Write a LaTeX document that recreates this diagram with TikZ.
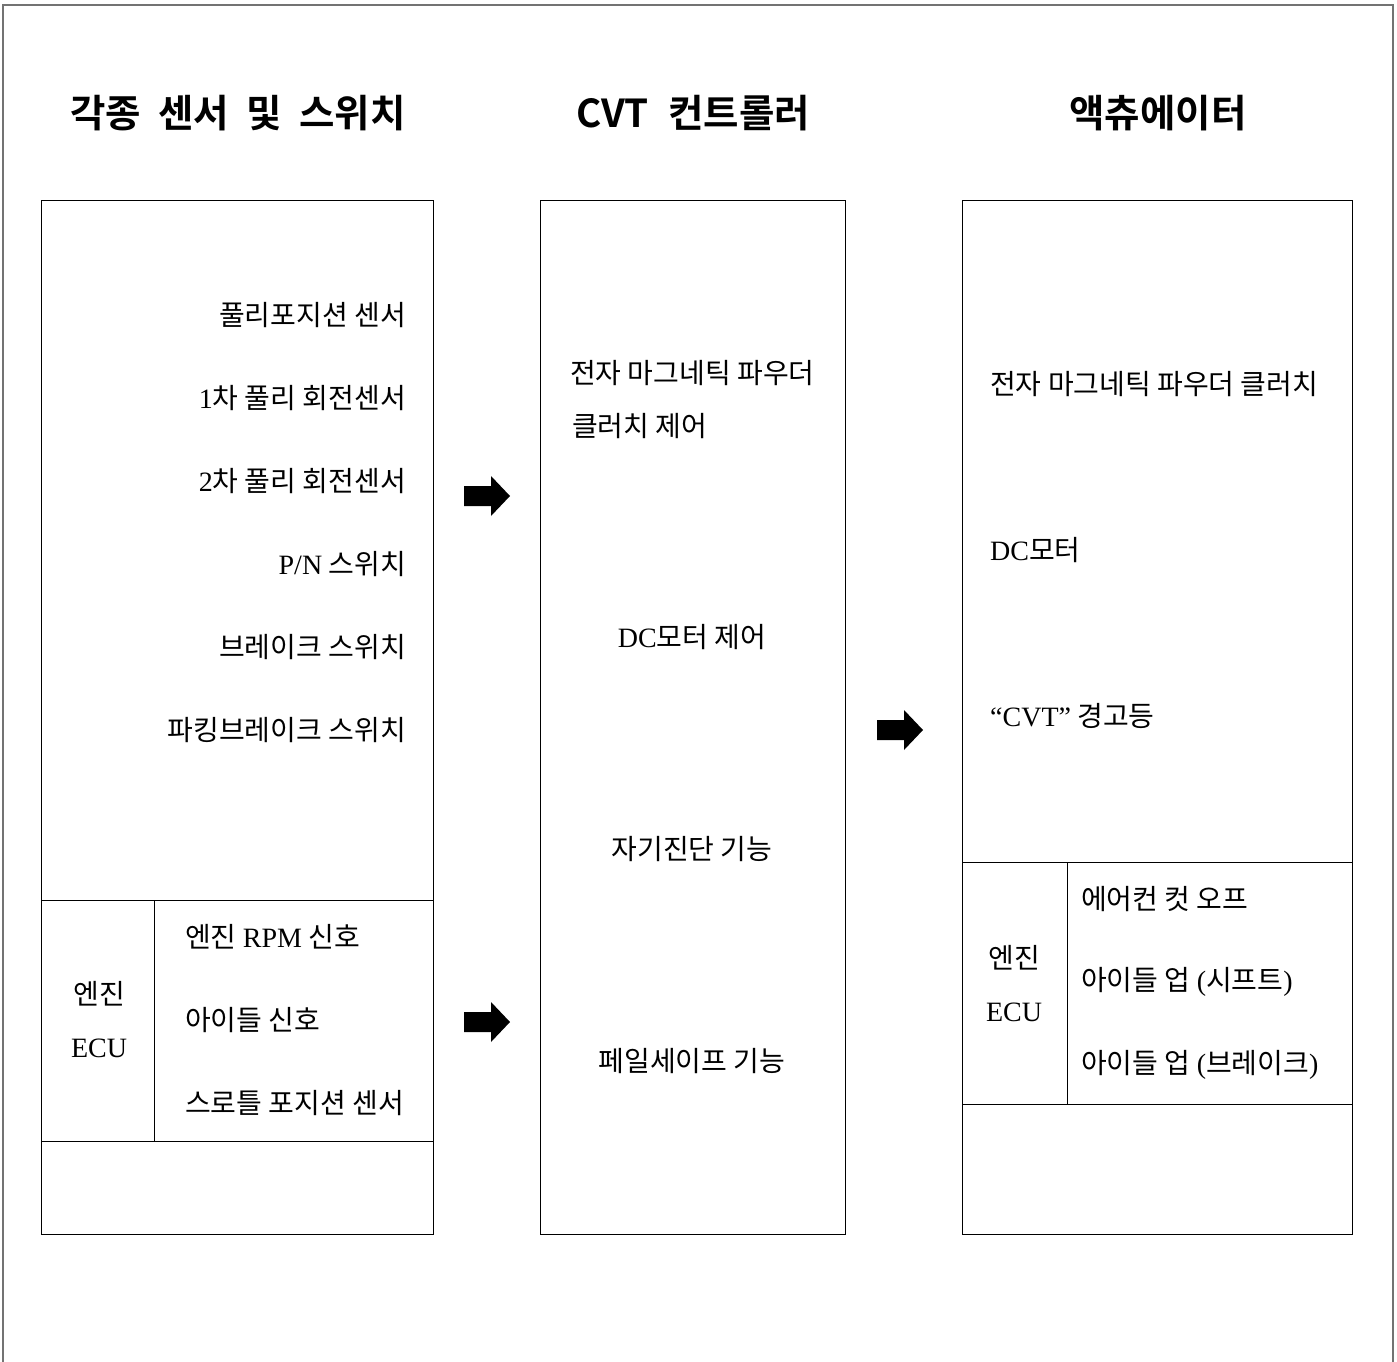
\documentclass[tikz,border=0pt]{standalone}
\usepackage{fontspec}
\setmainfont{Noto Sans CJK KR}[BoldFont={Noto Sans CJK KR Bold}]
\newfontfamily\lat{Liberation Serif}
\begin{document}
\begin{tikzpicture}[x=1pt,y=-1pt,
  box/.style={draw=black,line width=1pt},
  sep/.style={draw=black,line width=1pt},
  frame/.style={draw=black!55,line width=2pt},
  txt/.style={inner sep=0pt,font=\fontsize{28}{32}\selectfont},
  rtxt/.style={txt,anchor=east},
  ltxt/.style={txt,anchor=west},
  ttl/.style={inner sep=0pt,font=\fontsize{38.5}{44}\selectfont\bfseries},
  blk/.style={fill=black}]
\useasboundingbox (0,0) rectangle (1397,1362);
% outer frame (no bottom edge)
\draw[frame] (3,1362) -- (3,5) -- (1393,5) -- (1393,1362);
% titles
\node[ttl] (t1) at (238,113) {각종\hspace{0.45em}센서\hspace{0.45em}및\hspace{0.45em}스위치};
\node[ttl] (t2) at (693,113) {CVT\hspace{0.5em}컨트롤러};
\node[ttl] (t3) at (1158,113) {액츄에이터};
% boxes
\node[box,minimum width=392pt,minimum height=1034pt,inner sep=0pt] (bl) at (237,717) {};
\node[box,minimum width=305pt,minimum height=1034pt,inner sep=0pt] (bm) at (692.5,717) {};
\node[box,minimum width=390pt,minimum height=1034pt,inner sep=0pt] (br) at (1157,717) {};
% left separators
\coordinate (la) at (41,900); \coordinate (lb) at (433,900);
\coordinate (lc) at (41,1141); \coordinate (ld) at (433,1141);
\coordinate (le) at (154,900); \coordinate (lf) at (154,1141);
\draw[sep] (la) -- (lb); \draw[sep] (lc) -- (ld); \draw[sep] (le) -- (lf);
% right separators
\coordinate (ra) at (962,862); \coordinate (rb) at (1352,862);
\coordinate (rc) at (962,1104); \coordinate (rd) at (1352,1104);
\coordinate (re) at (1067,862); \coordinate (rf) at (1067,1104);
\draw[sep] (ra) -- (rb); \draw[sep] (rc) -- (rd); \draw[sep] (re) -- (rf);
% left texts
\node[rtxt] (s1) at (406,315) {풀리포지션 센서};
\node[rtxt] (s2) at (406,398) {{\lat 1}차 풀리 회전센서};
\node[rtxt] (s3) at (406,481) {{\lat 2}차 풀리 회전센서};
\node[rtxt] (s4) at (406,564) {{\lat P/N} 스위치};
\node[rtxt] (s5) at (406,647) {브레이크 스위치};
\node[rtxt] (s6) at (406,730) {파킹브레이크 스위치};
\node[txt] (e1) at (99,994) {엔진};
\node[txt] (e2) at (99,1048) {\lat ECU};
\node[ltxt] (e3) at (185,937) {엔진 {\lat RPM} 신호};
\node[ltxt] (e4) at (185,1020) {아이들 신호};
\node[ltxt] (e5) at (185,1103) {스로틀 포지션 센서};
% middle texts
\node[ltxt] (m1) at (570,373) {전자 마그네틱 파우더};
\node[ltxt] (m2) at (572,426) {클러치 제어};
\node[txt] (m3) at (692,637) {{\lat DC}모터 제어};
\node[txt] (m4) at (692,849) {자기진단 기능};
\node[txt] (m5) at (692,1061) {페일세이프 기능};
% right texts
\node[ltxt] (r1) at (990,384) {전자 마그네틱 파우더 클러치};
\node[ltxt] (r2) at (990,550) {{\lat DC}모터};
\node[ltxt] (r3) at (990,716) {{\lat “CVT”} 경고등};
\node[txt] (r4) at (1014,958) {엔진};
\node[txt] (r5) at (1014,1012) {\lat ECU};
\node[ltxt] (r6) at (1081,899) {에어컨 컷 오프};
\node[ltxt] (r7) at (1081,982) {아이들 업 {\lat (}시프트{\lat )}};
\node[ltxt] (r8) at (1081,1065) {아이들 업 {\lat (}브레이크{\lat )}};
% block arrows
\coordinate (a1) at (464,496);
\coordinate (a2) at (464,1022);
\coordinate (a3) at (877,730);
\foreach \a in {a1,a2,a3}{
  \fill[blk] (\a) ++(0,-10) -- ++(27,0) -- ++(0,-10) -- ++(19,20) -- ++(-19,20) -- ++(0,-10) -- ++(-27,0) -- cycle;
}
\end{tikzpicture}
\end{document}
